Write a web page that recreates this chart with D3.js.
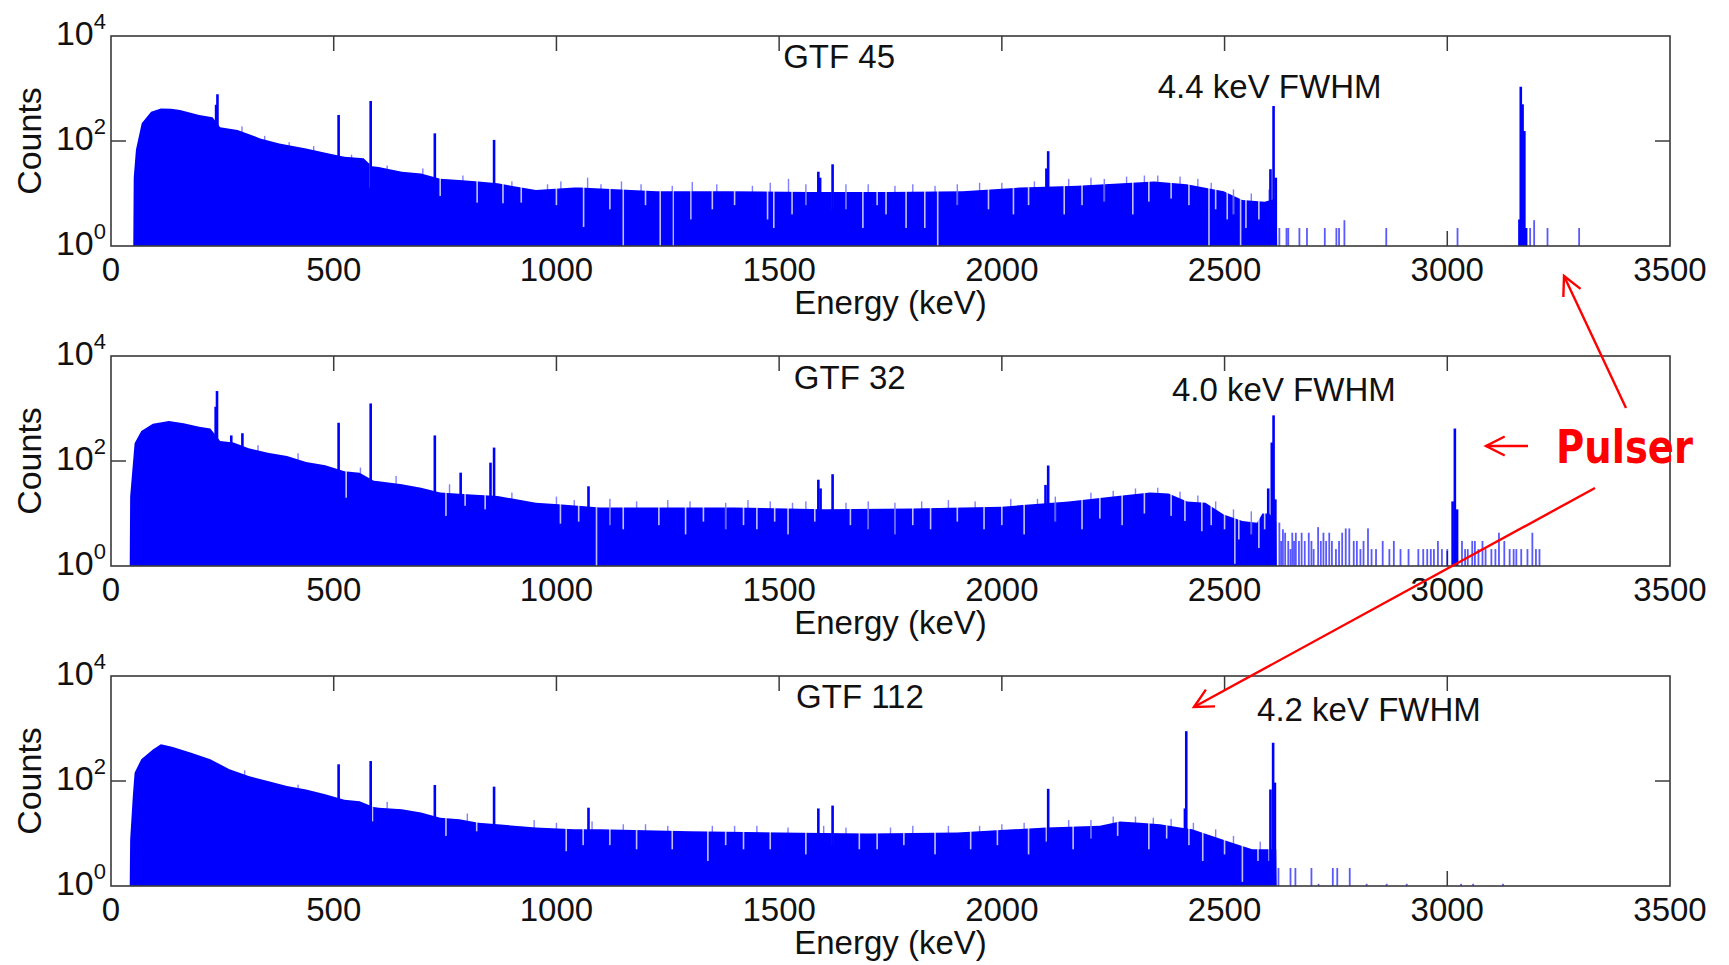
<!DOCTYPE html>
<html>
<head>
<meta charset="utf-8">
<script src="https://cdn.jsdelivr.net/npm/d3@7"></script>
<style>
html, body { margin: 0; padding: 0; background: #fff; }
text { font-family: "Liberation Sans", Arial, sans-serif; fill: #111; }
</style>
</head>
<body>
<div id="chart"></div>
<script>
// ---- data ----
const detectors = ["GTF 45", "GTF 32", "GTF 112"];
const fwhmLabels = ["4.4 keV FWHM", "4.0 keV FWHM", "4.2 keV FWHM"];
const xTicks = [0, 500, 1000, 1500, 2000, 2500, 3000, 3500];
const yTicks = [1, 100, 10000];

// [energy keV, counts]
const gtf45Continuum = [[50,1],[51,20],[56,68],[69,218],[90,360],[112,418],[135,410],[155,390],[198,313],[228,282],[245,182],[284,162],[335,112],[378,90],[438,72],[489,58],[524,50],[567,47],[586,33],[601,32],[653,26],[696,24],[739,19],[782,18],[825,17],[868,15.6],[954,11.7],[1040,13],[1053,13],[1225,11],[1396,11],[1568,10.7],[1740,10.7],[1912,11],[2041,13],[2170,14],[2342,17],[2415,15],[2498,11],[2540,7.5],[2590,7],[2617,8],[2618,1]];
const gtf45Peaks = [[236,490],[239,777],[511,313],[583,578],[727,140],[860,105],[1588,26],[1592,20],[1620,36],[2100,30],[2104,64],[2603,29],[2610,464],[2615,20],[3162,3.2],[3165,1080],[3169,500],[3173,155],[3177,2.2]];
const gtf45Tail = [[2623,2.2],[2639,2.2],[2643,2.2],[2668,2.2],[2685,2.2],[2725,2.2],[2751,2.2],[2757,2.2],[2769,3.1],[2863,2.2],[3023,2.2],[3186,2.2],[3195,3.1],[3225,2.2],[3296,2.2]];
const gtf45Dips = [[582,13],[739,9],[822,6.7],[880,6.5],[921,6.7],[1000,6],[1061,2.3],[1120,5],[1150,1],[1200,6],[1233,1],[1262,1],[1302,3.2],[1350,5],[1400,6],[1474,3.2],[1488,2.2],[1529,4],[1560,6],[1620,5],[1650,5],[1688,2.2],[1720,6],[1740,4],[1785,2.2],[1827,2.2],[1856,1],[1900,6],[1970,5],[2026,4],[2060,6],[2140,4],[2180,6],[2230,7],[2294,4],[2330,7],[2380,8],[2420,6],[2465,1],[2480,5],[2506,3.2],[2520,4],[2536,1],[2548,2.2],[2577,3.2]];
const gtf45Spikes = [[294,190],[345,125],[400,95],[455,80],[540,55],[620,34],[700,30],[790,22],[900,17],[980,15],[1010,17],[1070,20],[1100,15],[1146,17],[1190,15],[1260,14],[1305,16.6],[1360,15],[1440,14],[1480,16],[1521,19],[1560,15],[1650,15],[1700,15],[1760,14],[1800,15],[1850,14],[1900,15],[1950,16],[2000,16],[2073,17],[2150,19],[2200,20],[2230,19],[2280,21],[2320,22],[2350,22],[2400,21],[2440,19],[2470,16],[2520,12],[2560,10],[2600,12]];

const gtf32Continuum = [[42,1],[43,21],[49,86],[53,217],[68,373],[94,515],[130,575],[163,525],[198,450],[223,415],[245,240],[275,225],[309,174],[352,144],[395,124],[438,96],[481,83],[524,64],[558,60],[590,42],[601,41],[653,36],[696,31],[739,25],[808,23],[868,21.5],[954,16],[1005,15],[1098,13],[1200,13],[1400,13],[1600,12],[1800,12.5],[2000,13.5],[2150,17],[2250,21],[2333,25],[2374,24],[2416,17],[2457,16],[2498,9.6],[2540,7.2],[2573,6.7],[2585,10],[2600,10],[2616,7],[2617,1]];
const gtf32Peaks = [[235,1080],[238,2150],[270,307],[295,338],[511,535],[583,1250],[727,307],[785,60],[852,93],[860,180],[1072,33],[1588,44],[1593,30],[1620,56],[2098,35],[2104,82],[2598,30],[2606,225],[2610,740],[2614,18.6],[3012,17],[3017,415],[3022,12]];
const gtf32Tail = [[2623,6.7],[2627,3],[2631,5],[2636,4.3],[2643,3],[2648,2.1],[2652,4.3],[2656,3],[2660,4.3],[2667,3],[2673,4.3],[2680,3],[2689,4.3],[2695,3],[2700,2.1],[2710,5.5],[2716,3],[2722,4.3],[2728,3],[2735,4.3],[2741,3],[2750,2.1],[2757,3],[2764,4.3],[2772,5.2],[2780,5.2],[2790,3],[2797,3],[2805,2.1],[2812,3],[2822,5.2],[2830,2.1],[2840,2.1],[2855,3],[2870,2.1],[2880,3],[2895,2.1],[2913,2.1],[2935,2.1],[2946,2.1],[2955,2.1],[2963,2.1],[2970,2.1],[2979,3],[2988,2.1],[3000,2.1],[3033,3],[3040,2.1],[3046,2.1],[3056,3],[3062,3],[3070,2.1],[3079,3],[3086,2.1],[3099,2.1],[3108,2.1],[3116,4.3],[3128,3],[3140,2.1],[3149,2.1],[3155,2.1],[3166,2.1],[3180,2.1],[3191,4.3],[3199,2.1],[3207,2.1]];
const gtf32Dips = [[528,20],[752,9],[795,14],[840,12],[1009,6.4],[1050,7],[1090,1],[1120,6],[1150,5],[1230,6],[1290,4],[1330,7],[1380,5],[1420,6],[1450,5],[1490,7],[1520,4],[1580,7],[1660,6],[1700,5],[1760,4],[1800,6],[1840,5],[1900,7],[1960,5],[2000,6],[2050,4],[2120,7],[2180,5],[2220,8],[2270,6],[2320,10],[2380,9],[2411,7.2],[2449,4.6],[2470,6],[2500,5],[2523,1.1],[2532,3.2],[2560,4],[2577,2.2],[2590,5]];
const gtf32Spikes = [[330,200],[420,140],[560,75],[640,52],[760,36],[900,25],[1000,21],[1040,18],[1120,19],[1180,17],[1250,18],[1300,17],[1380,16],[1430,18],[1480,17],[1530,16],[1560,17],[1650,16],[1700,17],[1760,16],[1820,17],[1880,18],[1940,17],[2020,19],[2080,19],[2120,21],[2200,25],[2250,27],[2300,30],[2350,31],[2400,26],[2440,22],[2480,17],[2520,12],[2560,11]];

const gtf112Continuum = [[42,1],[43,7.7],[49,52],[53,144],[68,260],[94,400],[112,500],[137,450],[180,347],[223,260],[266,167],[309,124],[352,100],[395,80],[438,69],[481,56],[524,44],[558,41],[590,32],[601,31],[653,29],[696,25],[739,20],[782,18.6],[825,16],[868,15],[954,13],[1040,12],[1098,12],[1300,11],[1500,10.5],[1700,10],[1900,10.5],[2100,13],[2220,14],[2265,17],[2310,16],[2355,15],[2400,13],[2427,12],[2472,9],[2517,6.7],[2562,5],[2598,5],[2616,5],[2617,1]];
const gtf112Peaks = [[511,208],[583,240],[727,84],[860,78],[1072,31],[1588,30],[1620,34],[2104,71],[2411,30],[2414,890],[2603,69],[2609,535],[2613,93]];
const gtf112Tail = [[2621,2.2],[2648,2.2],[2659,2.2],[2695,2.2],[2711,1.1],[2743,2.2],[2753,2.2],[2781,2.2],[2819,1.1],[2864,1.1],[2909,1.1],[3031,1.1],[3058,1.1],[3125,1.1]];
const gtf112Dips = [[587,17],[752,9],[821,11],[1022,4.6],[1060,6],[1120,6],[1180,5],[1260,5],[1340,3],[1380,6],[1420,5],[1480,5],[1560,4],[1620,6],[1680,5],[1720,5],[1780,6],[1850,4],[1930,5],[1990,6],[2060,4],[2100,7],[2160,5],[2200,8],[2260,9],[2330,5],[2370,8],[2420,6],[2451,3],[2500,4],[2540,1.2],[2575,3],[2600,3]];
const gtf112Spikes = [[300,160],[420,85],[620,40],[800,24],[950,18],[1000,16],[1080,17],[1150,15],[1200,15],[1250,14],[1350,14],[1400,14],[1450,14],[1520,13],[1600,14],[1650,13],[1750,13],[1800,14],[1880,14],[1950,14],[2000,15],[2050,16],[2150,18],[2200,18],[2250,21],[2300,21],[2340,20],[2380,19],[2430,16],[2480,12],[2520,9],[2580,7]];

// label anchors in data units (keV)
const titleEnergy = [1509, 1533, 1538];
const fwhmEnergy = [2350, 2382, 2573];

const panels = [
    { continuum: gtf45Continuum, peaks: gtf45Peaks, tail: gtf45Tail, dips: gtf45Dips, spikes: gtf45Spikes },
    { continuum: gtf32Continuum, peaks: gtf32Peaks, tail: gtf32Tail, dips: gtf32Dips, spikes: gtf32Spikes },
    { continuum: gtf112Continuum, peaks: gtf112Peaks, tail: gtf112Tail, dips: gtf112Dips, spikes: gtf112Spikes }
];

// ---- layout ----
const width = 1729;
const height = 965;
const plotLeft = 111, plotRight = 1670, plotHeight = 210;
const panelTops = [36, 356, 676];
const titleDy = [32, 33, 32];
const fwhmDy = [62, 45, 45];
const tickLen = 15;
const blue = "#0000ff";
const axisColor = "#3a3a3a";

const svg = d3.select("#chart")
    .append("svg")
    .attr("width", width)
    .attr("height", height);

const x = d3.scaleLinear().domain([0, 3500]).range([plotLeft, plotRight]);

panels.forEach((p, i) => {
    const top = panelTops[i];
    const bottom = top + plotHeight;
    const y = d3.scaleLog().domain([1, 1e4]).range([bottom, top]).clamp(true);
    const g = svg.append("g");

    // bottom ticks sit under the data (matlab layer = bottom)
    g.selectAll(".xtick-b").data(xTicks.slice(1, -1)).join("line")
        .attr("x1", d => x(d)).attr("x2", d => x(d))
        .attr("y1", bottom).attr("y2", bottom - tickLen)
        .attr("stroke", axisColor).attr("stroke-width", 1.5);

    const area = d3.area()
        .x(d => x(d[0]))
        .y0(bottom)
        .y1(d => y(d[1]));

    g.append("path").datum(p.continuum)
        .attr("d", area)
        .attr("fill", blue);

    // low bins showing as pale gaps
    g.selectAll(".dip").data(p.dips).join("rect")
        .attr("x", d => x(d[0]) - 0.8)
        .attr("width", 1.6)
        .attr("y", top + tickLen + 2)
        .attr("height", d => y(d[1]) - (top + tickLen + 2))
        .attr("fill", "#fff")
        .attr("opacity", 0.75);

    g.selectAll(".spike").data(p.spikes).join("rect")
        .attr("x", d => x(d[0]) - 0.7)
        .attr("width", 1.4)
        .attr("y", d => y(d[1]))
        .attr("height", d => bottom - y(d[1]))
        .attr("fill", blue)
        .attr("opacity", 0.5);

    g.selectAll(".tail").data(p.tail).join("rect")
        .attr("x", d => x(d[0]) - 0.9)
        .attr("width", 1.8)
        .attr("y", d => y(d[1]))
        .attr("height", d => bottom - y(d[1]))
        .attr("fill", blue)
        .attr("opacity", 0.65);

    g.selectAll(".peak").data(p.peaks).join("rect")
        .attr("x", d => x(d[0]) - 1.3)
        .attr("width", 2.6)
        .attr("y", d => y(d[1]))
        .attr("height", d => bottom - y(d[1]))
        .attr("fill", blue);

    // box
    g.append("rect")
        .attr("x", plotLeft).attr("y", top)
        .attr("width", plotRight - plotLeft).attr("height", plotHeight)
        .attr("fill", "none")
        .attr("stroke", axisColor).attr("stroke-width", 1.6);

    g.selectAll(".xtick-t").data(xTicks.slice(1, -1)).join("line")
        .attr("x1", d => x(d)).attr("x2", d => x(d))
        .attr("y1", top).attr("y2", top + tickLen)
        .attr("stroke", axisColor).attr("stroke-width", 1.5);

    g.selectAll(".ytick-l").data(yTicks.slice(1, -1)).join("line")
        .attr("x1", plotLeft).attr("x2", plotLeft + tickLen)
        .attr("y1", d => y(d)).attr("y2", d => y(d))
        .attr("stroke", axisColor).attr("stroke-width", 1.5);

    g.selectAll(".ytick-r").data(yTicks.slice(1, -1)).join("line")
        .attr("x1", plotRight).attr("x2", plotRight - tickLen)
        .attr("y1", d => y(d)).attr("y2", d => y(d))
        .attr("stroke", axisColor).attr("stroke-width", 1.5);

    // tick labels
    g.selectAll(".xlab").data(xTicks).join("text")
        .attr("x", d => x(d))
        .attr("y", bottom + 35)
        .attr("text-anchor", "middle")
        .attr("font-size", 33)
        .text(d => d);

    const ylab = g.selectAll(".ylab").data(yTicks).join("text")
        .attr("x", plotLeft - 5)
        .attr("y", d => y(d) + 9)
        .attr("text-anchor", "end")
        .attr("font-size", 34);
    ylab.append("tspan").text("10");
    ylab.append("tspan")
        .attr("dy", -16)
        .attr("font-size", 22)
        .text(d => Math.round(Math.log10(d)));

    g.append("text")
        .attr("transform", `translate(41,${(top + bottom) / 2}) rotate(-90)`)
        .attr("text-anchor", "middle")
        .attr("font-size", 34)
        .text("Counts");

    g.append("text")
        .attr("x", (plotLeft + plotRight) / 2)
        .attr("y", bottom + 68)
        .attr("text-anchor", "middle")
        .attr("font-size", 33)
        .text("Energy (keV)");

    g.append("text")
        .attr("x", x(titleEnergy[i]))
        .attr("y", top + titleDy[i])
        .attr("font-size", 33)
        .text(detectors[i]);

    g.append("text")
        .attr("x", x(fwhmEnergy[i]))
        .attr("y", top + fwhmDy[i])
        .attr("font-size", 33)
        .text(fwhmLabels[i]);
});

// ---- pulser annotation ----
const red = "#ff0000";
const arrows = [
    [[1626, 408], [1564, 276]],
    [[1528, 446], [1486, 446]],
    [[1595, 488], [1194, 707]]
];

const ann = svg.append("g");
arrows.forEach(([from, tip]) => {
    const ang = Math.atan2(from[1] - tip[1], from[0] - tip[0]);
    const len = 21, spread = 0.47;
    const a1 = [tip[0] + len * Math.cos(ang + spread), tip[1] + len * Math.sin(ang + spread)];
    const a2 = [tip[0] + len * Math.cos(ang - spread), tip[1] + len * Math.sin(ang - spread)];
    ann.append("path")
        .attr("d", d3.line()([from, tip]))
        .attr("stroke", red).attr("stroke-width", 2.4).attr("fill", "none");
    ann.append("path")
        .attr("d", d3.line()([a1, tip, a2]))
        .attr("stroke", red).attr("stroke-width", 2.4).attr("fill", "none");
});

ann.append("text")
    .attr("x", 1556)
    .attr("y", 463)
    .attr("font-size", 46)
    .attr("font-weight", "bold")
    .attr("textLength", 137)
    .attr("lengthAdjust", "spacingAndGlyphs")
    .style("font-family", "'Comic Sans MS', 'DejaVu Sans', sans-serif")
    .style("fill", red)
    .text("Pulser");
</script>
</body>
</html>
